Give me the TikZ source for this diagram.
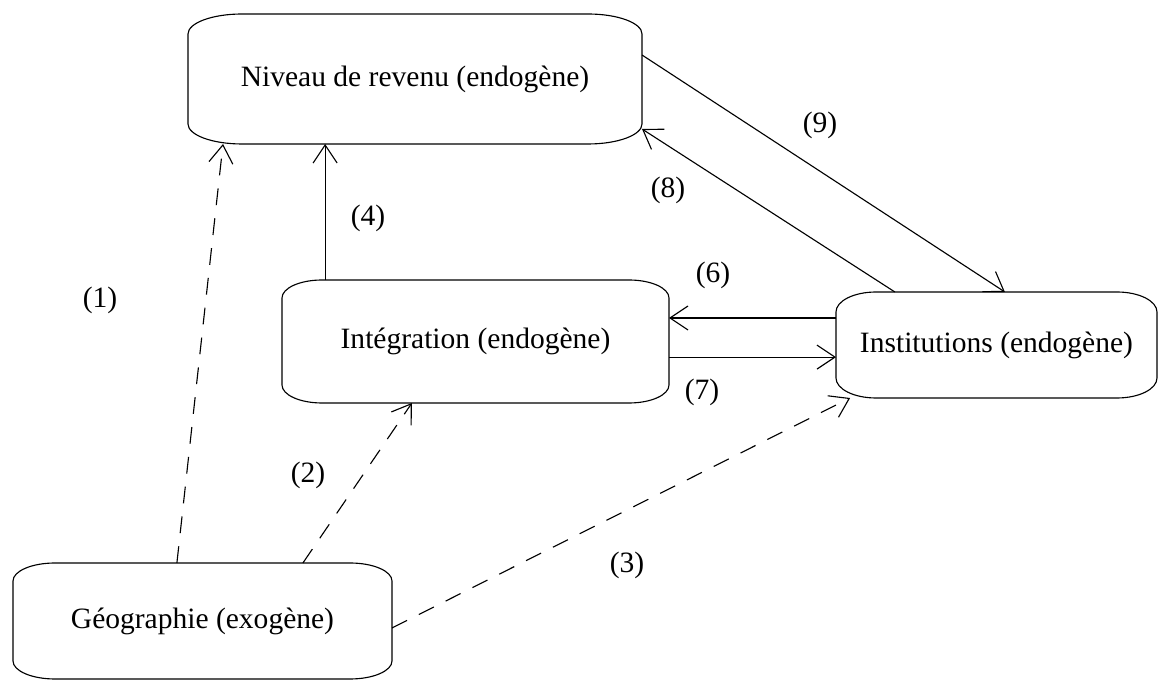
\documentclass[tikz,border=0pt]{standalone}
\usepackage{fontspec}
\setmainfont{Liberation Serif}
\usetikzlibrary{arrows.meta,calc}

\begin{document}
\begin{tikzpicture}[
        box/.style={rectangle, inner sep=0pt, outer sep=0pt, font=\fontsize{21}{25}\selectfont},
        link/.style={line width=0.8pt, -{Straight Barb[length=0.45cm, width=0.6cm]}},
        dep/.style={link, dash pattern=on 0.42cm off 0.33cm},
        num/.style={font=\fontsize{21}{25}\selectfont}
    ]
        \useasboundingbox (0,0) rectangle (29,17);

        % Blocs
        \node[box, minimum width=11.35cm, minimum height=3.25cm] (rev)   at (10.375,15.025) {Niveau de revenu (endogène)};
        \node[box, minimum width=9.675cm, minimum height=3.075cm] (integ) at (11.8875,8.4625) {Intégration (endogène)};
        \node[box, minimum width=8.025cm, minimum height=2.65cm]  (inst)  at (24.9125,8.375) {Institutions (endogène)};
        \node[box, minimum width=9.475cm, minimum height=2.9cm]   (geo)   at (5.0625,1.475)  {Géographie (exogène)};

        % Contours arrondis
        \foreach \n/\rx/\ry in {rev/1.35/0.5, integ/1/0.45, inst/1/0.5, geo/1.05/0.45}
            \draw[line width=0.8pt] ($(\n.north west)+(\rx,0)$) -- ($(\n.north east)+(-\rx,0)$)
                arc[start angle=90, end angle=0, x radius=\rx, y radius=\ry]
                -- ($(\n.south east)+(0,\ry)$)
                arc[start angle=0, end angle=-90, x radius=\rx, y radius=\ry]
                -- ($(\n.south west)+(\rx,0)$)
                arc[start angle=270, end angle=180, x radius=\rx, y radius=\ry]
                -- ($(\n.north west)+(0,-\ry)$)
                arc[start angle=180, end angle=90, x radius=\rx, y radius=\ry];

        % Liens exogènes
        \draw[dep] ([xshift=-0.64cm]geo.north) -- ([xshift=-4.8cm]rev.south);
        \draw[dep] ([xshift=2.51cm]geo.north) -- ([xshift=-1.59cm]integ.south);
        \draw[dep] ([yshift=-0.175cm]geo.east) -- ([xshift=-3.66cm]inst.south);

        % Liens endogènes
        \draw[link] ([xshift=-3.76cm]integ.north) -- ([xshift=-3.76cm]integ.north |- rev.south);
        \draw[link] ([yshift=0.675cm]inst.west) -- ([yshift=0.675cm]inst.west -| integ.east);
        \draw[link] ([yshift=-0.39cm]integ.east) -- ([yshift=-0.39cm]integ.east -| inst.west);
        \draw[link] ([xshift=-2.54cm]inst.north) -- ([yshift=-1.25cm]rev.east);
        \draw[link] ([yshift=0.6cm]rev.east) -- ([xshift=0.21cm]inst.north);

        % Numéros
        \node[num] (n1) at (2.5,9.5)      {(1)};
        \node[num] (n2) at (7.7,5.125)    {(2)};
        \node[num] (n3) at (15.675,2.875) {(3)};
        \node[num] (n4) at (9.2,11.55)    {(4)};
        \node[num] (n6) at (17.825,10.125){(6)};
        \node[num] (n7) at (17.55,7.2)    {(7)};
        \node[num] (n8) at (16.7,12.25)   {(8)};
        \node[num] (n9) at (20.5,13.875)  {(9)};
    \end{tikzpicture}
\end{document}
